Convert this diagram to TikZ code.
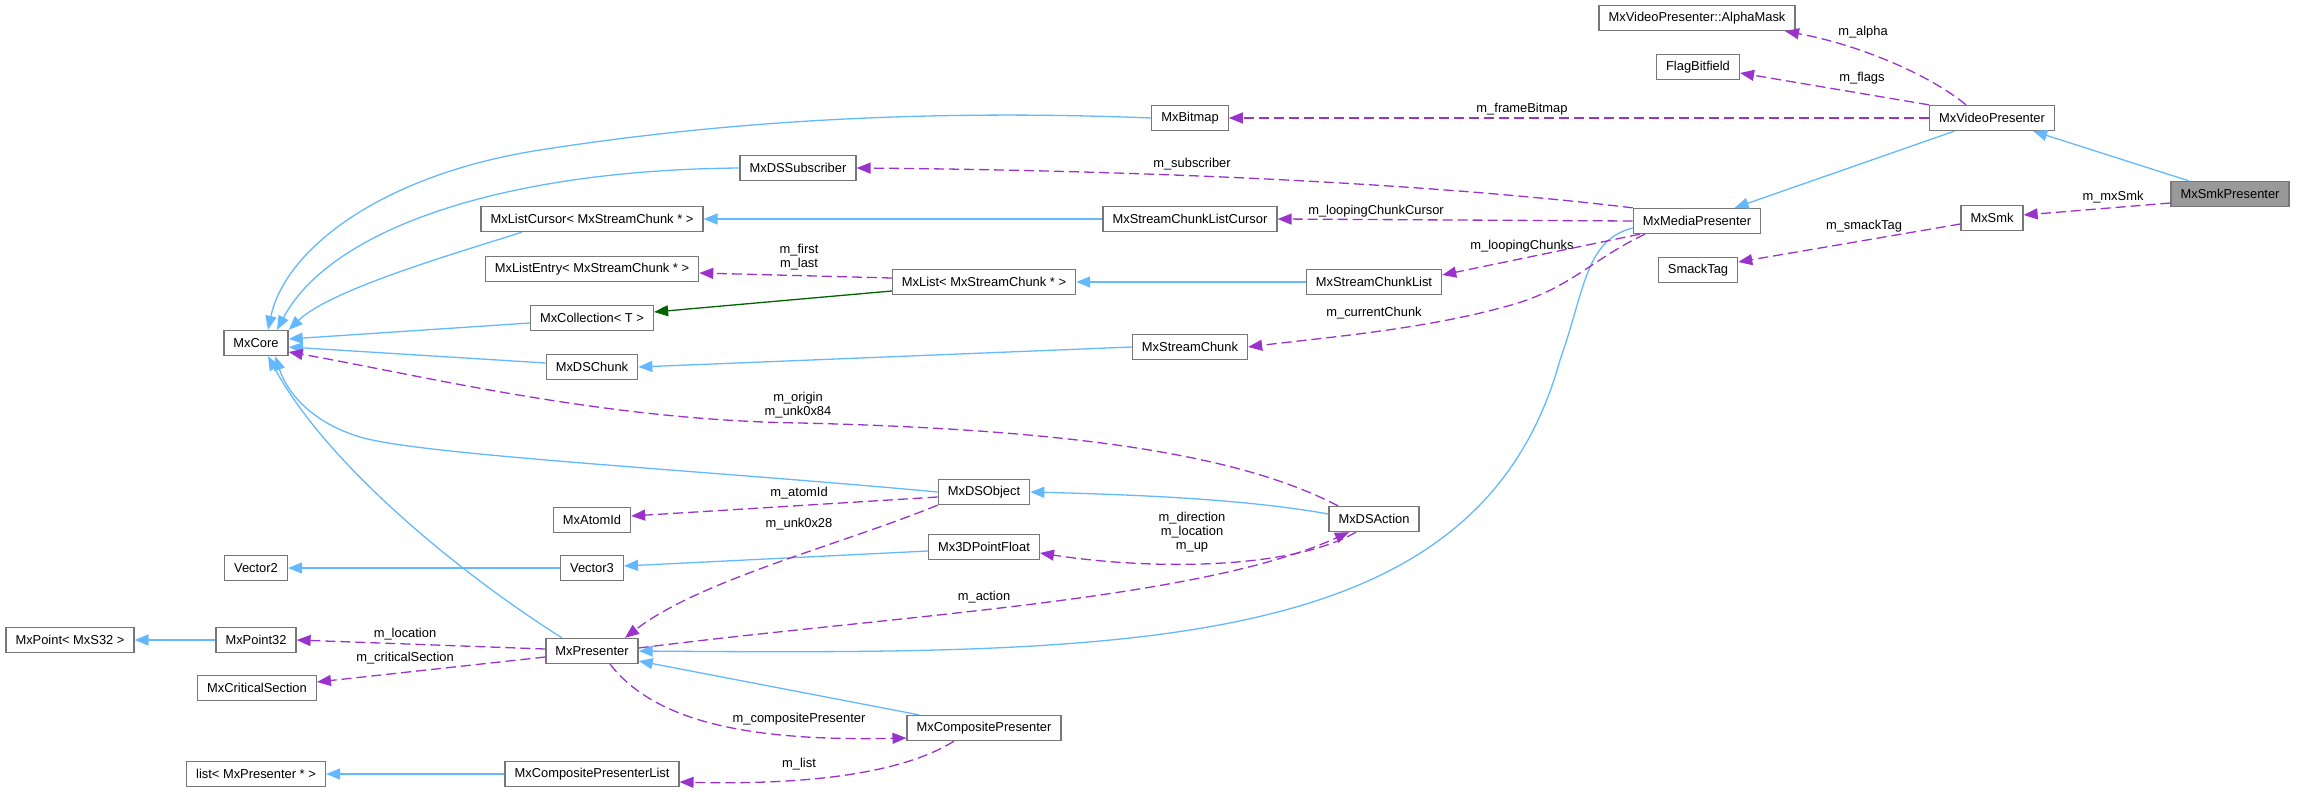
\documentclass[tikz,border=0pt]{standalone}
\usepackage{fontspec}
\setmainfont{Liberation Sans}
\usetikzlibrary{arrows.meta}
\definecolor{inhblue}{HTML}{63B8FF}
\definecolor{usepurple}{HTML}{9A32CD}
\definecolor{tmplgreen}{HTML}{006400}
\definecolor{boxgray}{HTML}{999999}
\definecolor{boxline}{HTML}{777777}
\begin{document}
\begin{tikzpicture}[x=1pt,y=-1pt]
        \tikzstyle{cls}=[draw=boxline,line width=1.3pt,fill=white,minimum height=25pt,inner xsep=9.5pt,inner ysep=0pt,font=\fontsize{12.9}{14}\selectfont];
        \tikzstyle{lbl}=[inner sep=0pt,align=center,font=\fontsize{12.9}{14}\selectfont];
        \tikzstyle{inh}=[draw=inhblue,line width=1.3pt,-{Triangle[length=14pt,width=11pt]}];
        \tikzstyle{usg}=[draw=usepurple,line width=1.3pt,dash pattern=on 10pt off 5pt,-{Triangle[length=14pt,width=11pt]}];
        \tikzstyle{tpl}=[draw=tmplgreen,line width=1.3pt,-{Triangle[length=14pt,width=11pt]}];
        \useasboundingbox (0,0) rectangle (2297,792);
        %\node (name) at (x,y) [cls] {class};
        \node[cls] (alpha) at (1697,18) {MxVideoPresenter::AlphaMask};
        \node[cls] (flags) at (1698,67) {FlagBitfield};
        \node[cls] (vidp) at (1992,118) {MxVideoPresenter};
        \node[cls,fill=boxgray] (smkp) at (2230,194) {MxSmkPresenter};
        \node[cls] (mxsmk) at (1992,218) {MxSmk};
        \node[cls] (mediap) at (1697,221) {MxMediaPresenter};
        \node[cls] (smack) at (1698,270) {SmackTag};
        \node[cls] (bitmap) at (1190,118) {MxBitmap};
        \node[cls] (dssub) at (798,168) {MxDSSubscriber};
        \node[cls] (sclc) at (1190,219) {MxStreamChunkListCursor};
        \node[cls] (scl) at (1374,282) {MxStreamChunkList};
        \node[cls] (schunk) at (1190,347) {MxStreamChunk};
        \node[cls] (mxlist) at (984,282) {MxList< MxStreamChunk * >};
        \node[cls] (lcursor) at (592,219) {MxListCursor< MxStreamChunk * >};
        \node[cls] (lentry) at (592,269) {MxListEntry< MxStreamChunk * >};
        \node[cls] (coll) at (592,318) {MxCollection< T >};
        \node[cls] (dschunk) at (592,367) {MxDSChunk};
        \node[cls] (core) at (256,343) {MxCore};
        \node[cls] (dsobj) at (984,492) {MxDSObject};
        \node[cls] (dsact) at (1374,519) {MxDSAction};
        \node[cls] (atomid) at (592,520) {MxAtomId};
        \node[cls] (pfloat) at (984,547) {Mx3DPointFloat};
        \node[cls] (vec2) at (256,568) {Vector2};
        \node[cls] (vec3) at (592,568) {Vector3};
        \node[cls] (mxpoint) at (70,640) {MxPoint< MxS32 >};
        \node[cls] (point32) at (256,640) {MxPoint32};
        \node[cls] (presenter) at (592,651) {MxPresenter};
        \node[cls] (critsec) at (257,688) {MxCriticalSection};
        \node[cls] (comp) at (984,728) {MxCompositePresenter};
        \node[cls] (plist) at (256,774) {list< MxPresenter * >};
        \node[cls] (complist) at (592,774) {MxCompositePresenterList};
        % member labels
        \node[lbl] (lalpha) at (1863,32) {m\_alpha};
        \node[lbl] (lflags) at (1862,78) {m\_flags};
        \node[lbl] (lframe) at (1522,109) {m\_frameBitmap};
        \node[lbl] (lmxsmk) at (2113,197) {m\_mxSmk};
        \node[lbl] (lsmack) at (1864,226) {m\_smackTag};
        \node[lbl] (lsub) at (1192,164) {m\_subscriber};
        \node[lbl] (lcursorlbl) at (1376,211) {m\_loopingChunkCursor};
        \node[lbl] (lchunks) at (1522,246) {m\_loopingChunks};
        \node[lbl] (lcurrent) at (1374,313) {m\_currentChunk};
        \node[lbl] (lfirst) at (799,257) {m\_first\\m\_last};
        \node[lbl] (lorigin) at (798,405) {m\_origin\\m\_unk0x84};
        \node[lbl] (latom) at (799,493) {m\_atomId};
        \node[lbl] (lunk) at (799,524) {m\_unk0x28};
        \node[lbl] (ldir) at (1192,532) {m\_direction\\m\_location\\m\_up};
        \node[lbl] (laction) at (984,597) {m\_action};
        \node[lbl] (lloc) at (405,634) {m\_location};
        \node[lbl] (lcrit) at (405,658) {m\_criticalSection};
        \node[lbl] (lcomp) at (799,719) {m\_compositePresenter};
        \node[lbl] (llist) at (799,764) {m\_list};
        % inheritance
        \path (smkp) edge[inh] (vidp)
        (vidp) edge[inh] (mediap)
        (sclc) edge[inh] (lcursor)
        (scl) edge[inh] (mxlist)
        (schunk.west) edge[inh] (dschunk.east)
        ([yshift=-5pt]coll.west) edge[inh] ([yshift=4pt]core.east)
        ([yshift=4pt]dschunk.west) edge[inh] ([yshift=-4pt]core.east)
        ([yshift=-4pt]pfloat.west) edge[inh] ([yshift=2pt]vec3.east)
        (vec3) edge[inh] (vec2)
        (point32) edge[inh] (mxpoint)
        ([xshift=-65pt]comp.north) edge[inh] ([yshift=-10pt]presenter.east)
        (complist) edge[inh] (plist)
        ([yshift=-9pt]mxlist.west) edge[tpl] ([yshift=6pt]coll.east);
        \draw[inh] ([yshift=-7pt]mediap.west) .. controls (1585,240) and (1585,290) .. (1560,360) .. controls (1480,650) and (1150,655) .. (presenter.east);
        \draw[inh] ([xshift=-30pt]presenter.north) .. controls (470,580) and (330,470) .. ([xshift=12pt]core.south);
        \draw[inh] (bitmap.west) .. controls (900,108) and (700,125) .. (540,150) .. controls (380,175) and (285,250) .. ([xshift=12pt]core.north);
        \draw[inh] (dssub.west) .. controls (500,170) and (330,230) .. ([xshift=21pt]core.north);
        \draw[inh] ([xshift=-70pt]lcursor.south) .. controls (450,255) and (330,290) .. (core.north east);
        \draw[inh] (dsobj.west) .. controls (700,470) and (420,455) .. (360,437) .. controls (320,425) and (290,400) .. ([xshift=19pt]core.south);
        \draw[inh] ([yshift=5pt]dsact.west) .. controls (1250,500) and (1150,495) .. (dsobj.east);
        % members
        \path (vidp) edge[usg] (bitmap)
        (vidp.north west) edge[usg] ([yshift=-6pt]flags.east)
        ([yshift=-9pt]smkp.west) edge[usg] ([yshift=3pt]mxsmk.east)
        ([yshift=-6pt]mxsmk.west) edge[usg] ([yshift=8pt]smack.east)
        (mediap.west) edge[usg] (sclc.east)
        ([xshift=-57pt]mediap.south) edge[usg] ([yshift=7pt]scl.east)
        ([yshift=4pt]mxlist.west) edge[usg] ([yshift=-4pt]lentry.east)
        ([yshift=-5pt]dsobj.west) edge[usg] ([yshift=4pt]atomid.east)
        ([yshift=2pt]presenter.west) edge[usg] (point32.east)
        ([yshift=-6pt]presenter.west) edge[usg] ([yshift=6pt]critsec.east);
        \draw[usg] ([xshift=-26pt]vidp.north) .. controls (1930,75) and (1860,45) .. ([xshift=88pt]alpha.south);
        \draw[usg] (mediap.north west) .. controls (1400,180) and (1100,170) .. (dssub.east);
        \draw[usg] ([xshift=-52pt]mediap.south) .. controls (1590,260) and (1570,290) .. (1504,307) .. controls (1420,330) and (1320,338) .. (schunk.east);
        \draw[usg] ([xshift=-36pt]dsact.north) .. controls (1250,460) and (1100,430) .. (800,423) .. controls (600,420) and (420,375) .. ([yshift=-9pt]core.east);
        \draw[usg] (dsobj.south west) .. controls (840,545) and (700,580) .. ([xshift=33pt]presenter.north);
        \draw[usg] ([xshift=-18pt]dsact.south) .. controls (1290,570) and (1150,570) .. ([yshift=-6pt]pfloat.east);
        \draw[usg] ([yshift=3pt]presenter.east) .. controls (900,615) and (1200,600) .. ([xshift=-25pt]dsact.south);
        \draw[usg] ([xshift=18pt]presenter.south) .. controls (650,715) and (730,742) .. ([yshift=-10pt]comp.west);
        \draw[usg] ([xshift=-30pt]comp.south) .. controls (900,775) and (800,785) .. ([yshift=-8pt]complist.east);
    \end{tikzpicture}
\end{document}
